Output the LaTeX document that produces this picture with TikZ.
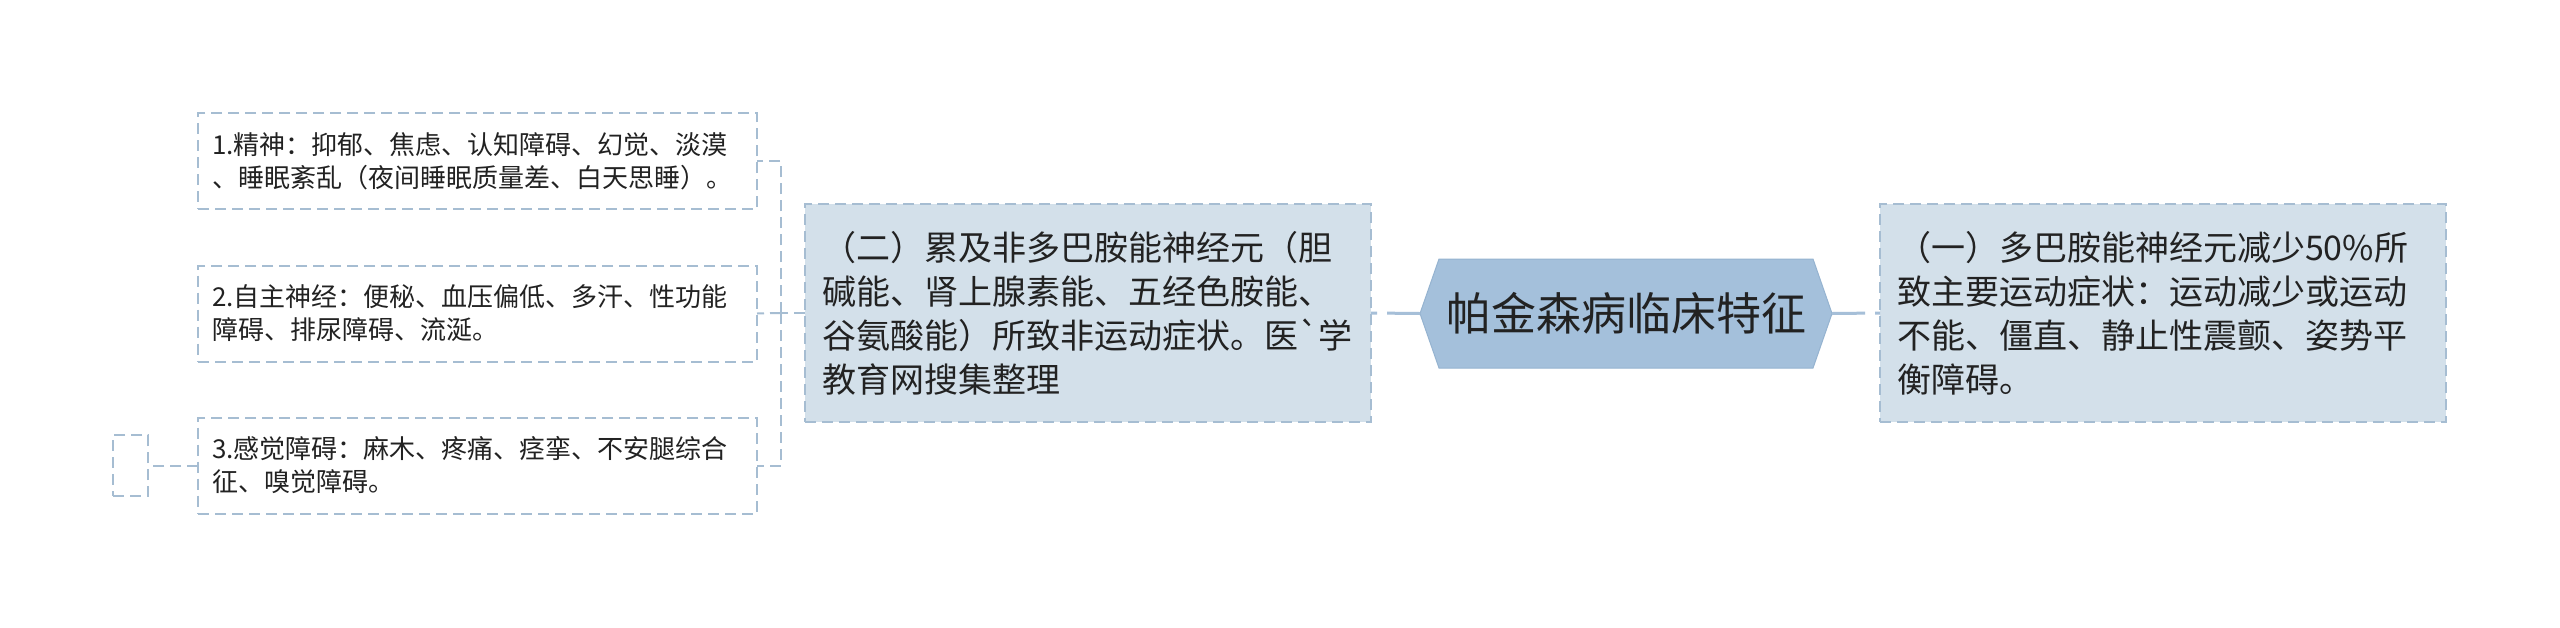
\documentclass[tikz,border=0pt]{standalone}
\usepackage{fontspec}
\setmainfont{Noto Sans CJK SC}
\usetikzlibrary{backgrounds}
\definecolor{boxfill}{HTML}{D3E0EA}
\definecolor{boxline}{HTML}{A6BDD2}
\definecolor{hubfill}{HTML}{A4C0DB}
\definecolor{hubline}{HTML}{95B3D0}
\definecolor{txt}{HTML}{222222}
\definecolor{edgecol}{HTML}{A6BFD8}
\begin{document}
\begin{tikzpicture}[x=1pt,y=-1pt,
 dbox/.style={draw=boxline, line width=2pt, dash pattern=on 11pt off 6pt, inner ysep=0pt, outer sep=0pt},
 bigbox/.style={dbox, fill=boxfill, minimum width=566pt, minimum height=218pt, text width=532pt, inner xsep=17pt, align=left, font=\fontsize{34}{44}\selectfont, text=txt},
 leafbox/.style={dbox, fill=white, minimum width=559pt, minimum height=96pt, text width=531pt, inner xsep=14pt, align=left, font=\fontsize{26}{33}\selectfont, text=txt},
 emptybox/.style={dbox, fill=white, minimum width=35pt, minimum height=61pt, inner sep=0pt},
 hubnode/.style={minimum width=412pt, minimum height=109pt, inner sep=0pt, outer sep=0pt, font=\fontsize{45}{54}\selectfont, text=txt},
 mainedge/.style={draw=edgecol, line width=3pt, dash pattern=on 33pt off 10pt},
 subedge/.style={draw=boxline, line width=2pt, dash pattern=on 11pt off 6pt}
]
\useasboundingbox (0,0) rectangle (2560,627);

% central topic
\node[hubnode] (hub) at (1626,313.5) {帕金森病临床特征};
\begin{scope}[on background layer]
\fill[white] (0,0) rectangle (2560,627);
\filldraw[fill=hubfill, draw=hubline, line width=1pt]
  (hub.west) -- ([xshift=19pt]hub.north west) -- ([xshift=-19pt]hub.north east)
  -- (hub.east) -- ([xshift=-19pt]hub.south east) -- ([xshift=19pt]hub.south west) -- cycle;
\end{scope}

% main branches
\node[bigbox] (b1) at (2163,313) {（一）多巴胺能神经元减少50\%所\\致主要运动症状：运动减少或运动\\不能、僵直、静止性震颤、姿势平\\衡障碍。};
\node[bigbox] (b2) at (1088,313) {（二）累及非多巴胺能神经元（胆\\碱能、肾上腺素能、五经色胺能、\\谷氨酸能）所致非运动症状。医\textasciigrave 学\\教育网搜集整理};

% leaves
\node[leafbox] (l1) at (477.5,161) {1.精神：抑郁、焦虑、认知障碍、幻觉、淡漠\\、睡眠紊乱（夜间睡眠质量差、白天思睡）。};
\node[leafbox] (l2) at (477.5,313.5) {2.自主神经：便秘、血压偏低、多汗、性功能\\障碍、排尿障碍、流涎。};
\node[leafbox] (l3) at (477.5,465.5) {3.感觉障碍：麻木、疼痛、痉挛、不安腿综合\\征、嗅觉障碍。};
\node[emptybox] (sb) at (130.5,465.5) {};

% connectors
\draw[mainedge] (hub.west) -- (b2.east);
\draw[mainedge] (hub.east) -- (b1.west);
\coordinate (jx) at (781,313);
\draw[subedge] (b2.west) -- (jx);
\draw[subedge] (jx) |- (l1.east);
\draw[subedge] (jx) |- (l3.east);
\draw[subedge] (jx) -- (l2.east);
\draw[subedge] (l3.west) -- (sb.east);
\end{tikzpicture}
\end{document}
